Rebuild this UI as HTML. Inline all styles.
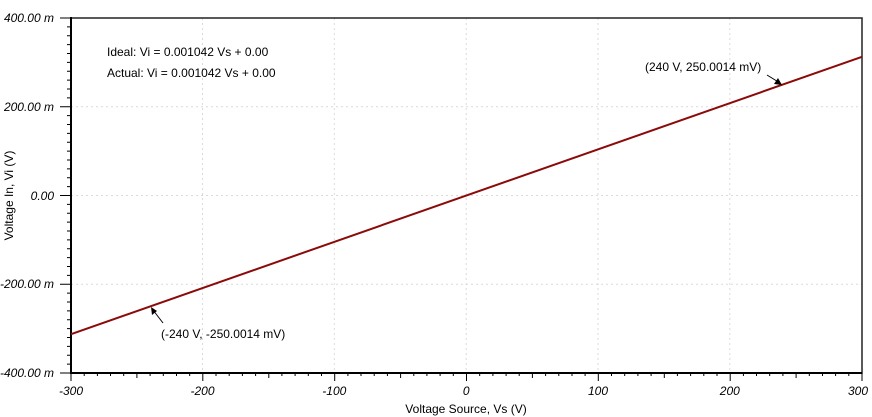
<!DOCTYPE html>
<html><head><meta charset="utf-8"><style>
body{margin:0;background:#fff;}
svg{display:block;font-family:"Liberation Sans",sans-serif;}
</style></head><body>
<svg id="s" width="872" height="417" viewBox="0 0 872 417" xmlns="http://www.w3.org/2000/svg">
<g stroke="#dadada" stroke-width="1" stroke-dasharray="2,3">
<line x1="202.5" y1="18" x2="202.5" y2="373"/>
<line x1="334.3" y1="18" x2="334.3" y2="373"/>
<line x1="466.2" y1="18" x2="466.2" y2="373"/>
<line x1="598" y1="18" x2="598" y2="373"/>
<line x1="729.8" y1="18" x2="729.8" y2="373"/>
<line x1="71" y1="106.75" x2="862" y2="106.75"/>
<line x1="71" y1="195.5" x2="862" y2="195.5"/>
<line x1="71" y1="284.25" x2="862" y2="284.25"/>
</g>
<rect x="71" y="18" width="791" height="355" fill="none" stroke="#222" stroke-width="1.5"/>
<line x1="71" y1="17" x2="71" y2="374" stroke="#000" stroke-width="2"/>
<line x1="70" y1="373" x2="862" y2="373" stroke="#000" stroke-width="2"/>
<g id="ticks" stroke="#000" stroke-width="1"></g>
<line x1="71" y1="334.2" x2="862" y2="56.8" stroke="#8b0a0a" stroke-width="2"/>
<g font-size="12" font-style="italic" fill="#000" text-anchor="end">
<text x="54" y="22">400.00 m</text>
<text x="54" y="111">200.00 m</text>
<text x="54" y="200">0.00</text>
<text x="54" y="288">-200.00 m</text>
<text x="54" y="377">-400.00 m</text>
</g>
<g font-size="12" font-style="italic" fill="#000" text-anchor="middle">
<text x="71" y="395">-300</text>
<text x="202.5" y="395">-200</text>
<text x="334.3" y="395">-100</text>
<text x="466.2" y="395">0</text>
<text x="598" y="395">100</text>
<text x="729.8" y="395">200</text>
<text x="858" y="395">300</text>
</g>
<text x="466" y="413" font-size="12" text-anchor="middle">Voltage Source, Vs (V)</text>
<text transform="translate(13,195.5) rotate(-90)" font-size="12" text-anchor="middle">Voltage In, Vi (V)</text>
<text x="107" y="56" font-size="12">Ideal: Vi = 0.001042 Vs + 0.00</text>
<text x="107" y="77" font-size="12">Actual: Vi = 0.001042 Vs + 0.00</text>
<text x="645" y="71" font-size="12">(240 V, 250.0014 mV)</text>
<text x="161" y="338" font-size="12">(-240 V, -250.0014 mV)</text>
<line x1="767" y1="75" x2="780" y2="83" stroke="#000" stroke-width="1"/>
<polygon points="782,85 774,84 778,78" fill="#000"/>
<line x1="163" y1="323" x2="153" y2="310" stroke="#000" stroke-width="1"/>
<polygon points="151,307 152,315 157,311" fill="#000"/>
</svg>
<script>
var g=document.getElementById('ticks'),d='';
for(var v=-300;v<=300;v+=10){var x=71+(v+300)*791/600;var L=(v%100==0)?8:(v%50==0?5:3);d+='M'+x.toFixed(1)+' 373v'+L;}
for(var m=-400;m<=400;m+=20){var y=195.5-m*355/800;if(m%200==0)d+='M60 '+y.toFixed(1)+'h11';else d+='M67 '+y.toFixed(1)+'h4';}
var p=document.createElementNS('http://www.w3.org/2000/svg','path');p.setAttribute('d',d);g.appendChild(p);
</script>
</body></html>
